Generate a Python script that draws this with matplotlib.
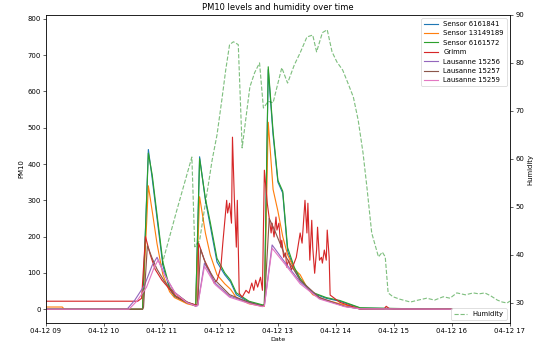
import matplotlib
matplotlib.use("Agg")
import matplotlib.pyplot as plt
import pandas as pd

start = pd.Timestamp("2024-04-12 09:00")

# PM10 sensors (minutes after 09:00 and readings)
sensor_minutes = [0, 17, 19, 100, 106, 110, 115, 121, 128, 133, 146, 155, 159, 165, 170, 177,
                  185, 191, 197, 210, 224, 226, 230, 235, 240, 245, 250, 257, 263, 270, 276,
                  290, 304, 325, 400, 420]
pm_6161841 = [0, 0, 0, 0, 440, 360, 250, 121, 55, 35, 17, 10, 420, 300, 230, 130,
              95, 75, 40, 20, 10, 10, 660, 480, 350, 320, 160, 110, 80, 60, 44,
              30, 22, 3, 0, 0]
pm_13149189 = [6, 6, 0, 0, 340, 270, 180, 95, 48, 32, 15, 9, 310, 210, 150, 95,
               70, 55, 32, 15, 8, 8, 515, 330, 270, 200, 150, 110, 95, 60, 40,
               25, 15, 2, 0, 0]
pm_6161572 = [0, 0, 0, 0, 430, 370, 260, 130, 60, 38, 18, 11, 415, 305, 240, 140,
              100, 80, 45, 22, 12, 12, 668, 490, 355, 325, 170, 115, 85, 62, 46,
              32, 24, 4, 0, 0]

grimm_minutes = [0, 95, 99, 103, 108, 113, 120, 128, 135, 145, 155, 157, 158, 164, 169, 174,
                 177, 178, 181, 183, 187, 188, 190, 192, 193, 195, 197, 198, 200, 203, 207,
                 210, 213, 215, 217, 219, 222, 224, 226, 229, 233, 234, 236, 238, 239, 241,
                 243, 244, 246, 248, 249, 251, 254, 259, 263, 265, 268, 270, 271, 273, 275,
                 276, 278, 280, 281, 283, 285, 286, 288, 290, 291, 293, 294, 304, 325, 350,
                 352, 355, 360, 420]
pm_grimm = [22, 22, 30, 200, 150, 110, 80, 55, 35, 20, 12, 12, 182, 135, 108, 72,
            80, 88, 116, 182, 300, 265, 292, 237, 474, 300, 171, 300, 44, 33, 52,
            44, 72, 52, 80, 61, 88, 52, 383, 292, 210, 237, 199, 254, 218, 237,
            171, 190, 143, 155, 116, 135, 108, 143, 210, 182, 300, 210, 292, 135, 245,
            171, 99, 163, 226, 135, 143, 127, 163, 135, 218, 143, 39, 19, 0, 1,
            8, 2, 0, 0]

l15256_minutes = [0, 84, 92, 102, 110, 115, 123, 133, 146, 155, 157, 164, 175, 190, 211,
                  224, 226, 234, 247, 263, 283, 309, 325, 420]
pm_l15256 = [0, 0, 25, 66, 121, 143, 94, 47, 19, 8, 10, 127, 72, 36, 17,
             8, 10, 177, 130, 75, 30, 8, 1, 0]

l15257_minutes = [0, 100, 101, 105, 110, 115, 123, 133, 146, 155, 157, 160, 166, 175, 190,
                  211, 224, 226, 231, 237, 247, 263, 283, 309, 325, 420]
pm_l15257 = [0, 0, 5, 175, 140, 110, 75, 45, 20, 10, 12, 165, 120, 80, 40,
             18, 9, 12, 250, 215, 150, 80, 32, 8, 1, 0]

l15259_minutes = [0, 86, 94, 104, 112, 116, 124, 134, 146, 155, 157, 164, 175, 190, 211,
                  224, 226, 234, 247, 263, 283, 309, 325, 420]
pm_l15259 = [0, 0, 22, 60, 115, 135, 88, 44, 18, 9, 10, 118, 68, 33, 15,
             7, 9, 168, 125, 70, 28, 7, 1, 0]

# relative humidity (%)
humidity_minutes = [120, 135, 151, 154, 159, 172, 177, 182, 186, 190, 194, 199, 203, 211, 216,
                    221, 225, 230, 235, 244, 250, 257, 263, 270, 276, 280, 286, 291, 296, 301,
                    307, 312, 318, 323, 328, 332, 337, 344, 348, 351, 354, 359, 366, 377, 385,
                    394, 402, 411, 418, 425, 434, 442, 448, 454, 460, 467, 472, 477, 480]
humidity = [37.9, 49.0, 60.4, 41.7, 43.0, 59.8, 65.0, 72.3, 78.5, 83.8, 84.4, 83.8, 62.3, 75.0, 78.0,
            80.0, 70.6, 72.0, 71.7, 79.0, 75.8, 79.6, 82.1, 85.4, 85.8, 82.3, 86.3, 86.9, 82.3, 80.2,
            78.5, 76.0, 72.9, 68.1, 61.3, 54.2, 44.6, 39.6, 40.6, 39.6, 32.1, 31.3, 30.8, 30.2, 30.6,
            31.0, 30.6, 31.3, 31.0, 32.1, 31.7, 32.1, 31.9, 32.1, 31.5, 30.6, 30.2, 30.0, 30.4]

series = [
    ("Sensor 6161841", sensor_minutes, pm_6161841),
    ("Sensor 13149189", sensor_minutes, pm_13149189),
    ("Sensor 6161572", sensor_minutes, pm_6161572),
    ("Grimm", grimm_minutes, pm_grimm),
    ("Lausanne 15256", l15256_minutes, pm_l15256),
    ("Lausanne 15257", l15257_minutes, pm_l15257),
    ("Lausanne 15259", l15259_minutes, pm_l15259),
]


def to_time(minutes):
    return start + pd.to_timedelta(minutes, unit="min")


plt.rcParams["font.size"] = 9
plt.rcParams["xtick.labelsize"] = 9
plt.rcParams["ytick.labelsize"] = 9

fig, ax = plt.subplots(figsize=(10, 6.337), dpi=54.6)
fig.subplots_adjust(left=0.084, right=0.934, bottom=0.066, top=0.957)

for name, mins, vals in series:
    ax.plot(to_time(mins), vals, label=name)

ax.set_xlabel("Date", fontsize=8.5, labelpad=3)
ax.set_ylabel("PM10", fontsize=9)
ax.set_title("PM10 levels and humidity over time", fontsize=11)
ax.set_ylim(-38.5, 811)
ax.set_xlim(start, start + pd.Timedelta(hours=8))
ax.legend(loc="upper right", fontsize=9)

ax2 = ax.twinx()
ax2.plot(to_time(humidity_minutes), humidity, color="green", linestyle="--", alpha=0.5,
         label="Humidity")
ax2.set_ylabel("Humidity", fontsize=9)
ax2.set_ylim(25.8, 90)
ax2.legend(loc="lower right", fontsize=9)

fig.savefig("out.png", dpi=54.6)
